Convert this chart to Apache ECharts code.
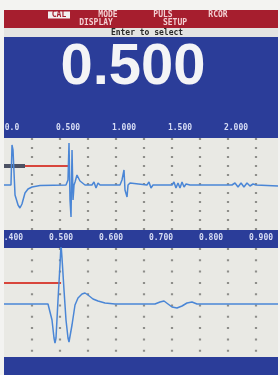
<!DOCTYPE html>
<html>
<head>
<meta charset="utf-8">
<script src="https://cdn.jsdelivr.net/npm/echarts@6/dist/echarts.min.js"></script>
<style>
html, body { margin: 0; padding: 0; background: #f3f3f1; }
#chart { width: 280px; height: 375px; }
</style>
</head>
<body>
<div id="chart"></div>
<script>
// screen texts
const menuRow1 = ['CAL', 'MODE', 'PULS', 'RCOR'];
const menuRow2 = ['DISPLAY', 'SETUP'];
const promptText = 'Enter to select';
const readout = '0.500';

// tick labels
const topTicks = [0, 0.5, 1, 1.5, 2];
const bottomTicks = [0.4, 0.5, 0.6, 0.7, 0.8, 0.9];

// cursor
const cursorAt = 0.5;
const cursorLevelTop = 19;
const cursorLevelBottom = 21;
const markerEnd = 0.116;

// top trace (full span)
const topTimes = [-0.0714, -0.027, -0.009, 0.0, 0.009, 0.027, 0.054, 0.071, 0.089, 0.116, 0.143, 0.179, 0.25,
  0.482, 0.5, 0.509, 0.518, 0.527, 0.536, 0.545, 0.554, 0.563, 0.58, 0.607, 0.652,
  0.714, 0.732, 0.75, 0.768, 0.786, 0.964, 0.982, 1.0, 1.009, 1.027, 1.036, 1.054, 1.071,
  1.205, 1.223, 1.241, 1.259, 1.429, 1.446, 1.464, 1.482, 1.5, 1.518, 1.536, 1.554, 1.571, 1.589,
  1.964, 1.991, 2.018, 2.045, 2.071, 2.098, 2.125, 2.152, 2.179, 2.375];
const topLevels = [0, 0, 0, 40, 35, -10, -20, -23, -19, -8, -4, -2, -0.5,
  0, 5, 42, -15, -32, 35, -15, 0, 3, 10, 4, 0,
  0, 3, -3, 2, 0, 0, 5, 15, -5, -12, 0, 2, 0,
  0, 3, -3, 0, 0, 3, -3, 2, -3, 3, -2, 1, -1, 0,
  0, 2, -2, 2, -2, 2, -1, 1, 0, -1];

// bottom trace (zoomed span)
const bottomTimes = [0.386, 0.474, 0.478, 0.482, 0.486, 0.488, 0.49, 0.494, 0.498, 0.5, 0.502, 0.506, 0.51,
  0.514, 0.516, 0.518, 0.522, 0.528, 0.534, 0.542, 0.548, 0.554, 0.564, 0.574, 0.588, 0.608,
  0.688, 0.698, 0.706, 0.714, 0.722, 0.732, 0.742, 0.752, 0.762, 0.772, 0.934];
const bottomLevels = [0, 0, -2, -16, -34, -39, -34, 4, 39, 60, 46, 14, -16,
  -34, -38, -36, -21, -1, 6, 10, 11, 9, 5, 3, 1, 0,
  0, 2, 3, 0, -3, -4, -2, 1, 2, 0, 0];

const zip = (xs, ys) => xs.map((x, i) => [x, ys[i]]);

const mono = 'bold 8px "DejaVu Sans Mono", monospace';
const txt = (text, x, y, fill, font) => ({
  type: 'text', x: x, y: y, z: 20,
  style: { text: text, fill: fill, font: font || mono, align: 'center', verticalAlign: 'middle',
    textAlign: 'center', textVerticalAlign: 'middle' }
});

const initChart = () => {
  const myChart = echarts.init(document.getElementById('chart'));

  const gratLine = (gap) => ({
    show: true, showMinLine: false, showMaxLine: false,
    lineStyle: { color: '#8e8e8a', width: 2.2, type: [2, gap] }
  });

  const option = {
    animation: false,
    backgroundColor: '#f3f3f1',
    graphic: [
      { type: 'rect', z: -10, shape: { x: 4, y: 10, width: 274, height: 365 }, style: { fill: '#2b3d99' } },
      { type: 'rect', z: -9, shape: { x: 4, y: 10, width: 274, height: 18 }, style: { fill: '#a61e2e' } },
      { type: 'rect', z: -9, shape: { x: 4, y: 28, width: 274, height: 9 }, style: { fill: '#e4e4e2' } },
      { type: 'rect', z: 19, shape: { x: 48, y: 11.5, width: 22, height: 7 }, style: { fill: '#f2f0f0' } },
      txt(menuRow1[0], 59, 15, '#a61e2e'),
      txt(menuRow1[1], 108, 15, '#f3cfd2'),
      txt(menuRow1[2], 163, 15, '#f3cfd2'),
      txt(menuRow1[3], 218, 15, '#f3cfd2'),
      txt(menuRow2[0], 96, 23, '#f3cfd2'),
      txt(menuRow2[1], 175, 23, '#f3cfd2'),
      txt(promptText, 147, 32.5, '#2a2a2a'),
      txt(readout, 133, 68, '#f4f4f6', 'bold 58px "Liberation Sans", Arial, sans-serif'),
      { type: 'rect', z: 30, shape: { x: 0, y: 0, width: 4, height: 375 }, style: { fill: '#f3f3f1' } },
      { type: 'rect', z: 30, shape: { x: 278, y: 0, width: 2, height: 375 }, style: { fill: '#f3f3f1' } }
    ],
    grid: [
      { left: 4, top: 138, width: 274, height: 92, show: true, backgroundColor: '#e9e9e4', borderWidth: 0,
        outerBoundsMode: 'none', containLabel: false },
      { left: 4, top: 248, width: 274, height: 109, show: true, backgroundColor: '#e9e9e4', borderWidth: 0,
        outerBoundsMode: 'none', containLabel: false }
    ],
    xAxis: [
      { type: 'value', gridIndex: 0, position: 'top', min: -0.0714, max: 2.375,
        axisLine: { show: false }, axisTick: { show: false }, splitLine: { show: false },
        axisLabel: { customValues: topTicks, margin: 6, color: '#d6dcf4',
          fontFamily: 'DejaVu Sans Mono', fontWeight: 'bold', fontSize: 8,
          formatter: v => v === 0 ? '0.0' : v.toFixed(3) } },
      { type: 'value', gridIndex: 0, min: 0, max: 9.786, interval: 1, show: true,
        axisLine: { show: false }, axisTick: { show: false }, axisLabel: { show: false },
        splitLine: gratLine(7.0) },
      { type: 'value', gridIndex: 1, position: 'top', min: 0.386, max: 0.934,
        axisLine: { show: false }, axisTick: { show: false }, splitLine: { show: false },
        axisLabel: { customValues: bottomTicks, margin: 6, color: '#d6dcf4',
          fontFamily: 'DejaVu Sans Mono', fontWeight: 'bold', fontSize: 8,
          formatter: v => v.toFixed(3) } },
      { type: 'value', gridIndex: 1, min: 0, max: 9.786, interval: 1, show: true,
        axisLine: { show: false }, axisTick: { show: false }, axisLabel: { show: false },
        splitLine: gratLine(9.3) }
    ],
    yAxis: [
      { type: 'value', gridIndex: 0, min: -45, max: 47, show: false },
      { type: 'value', gridIndex: 1, min: -53, max: 56, show: false }
    ],
    series: [
      { type: 'line', xAxisIndex: 0, yAxisIndex: 0, showSymbol: false, clip: true,
        lineStyle: { color: '#d8463c', width: 2 },
        data: [[-0.0714, cursorLevelTop], [cursorAt, cursorLevelTop]] },
      { type: 'line', xAxisIndex: 0, yAxisIndex: 0, showSymbol: false, clip: true,
        lineStyle: { color: '#4c5264', width: 4 },
        data: [[-0.0714, cursorLevelTop], [markerEnd, cursorLevelTop]] },
      { type: 'line', xAxisIndex: 0, yAxisIndex: 0, showSymbol: false, clip: true,
        lineStyle: { color: '#4a86d6', width: 1.5 },
        data: zip(topTimes, topLevels) },
      { type: 'line', xAxisIndex: 2, yAxisIndex: 1, showSymbol: false, clip: true,
        lineStyle: { color: '#d8463c', width: 2 },
        data: [[0.386, cursorLevelBottom], [cursorAt, cursorLevelBottom]] },
      { type: 'line', xAxisIndex: 2, yAxisIndex: 1, showSymbol: false, clip: true,
        lineStyle: { color: '#4a86d6', width: 1.5 },
        data: zip(bottomTimes, bottomLevels) }
    ]
  };

  myChart.setOption(option);
  myChart.resize();
};

window.addEventListener('load', () => {
  initChart();
});
</script>
</body>
</html>
